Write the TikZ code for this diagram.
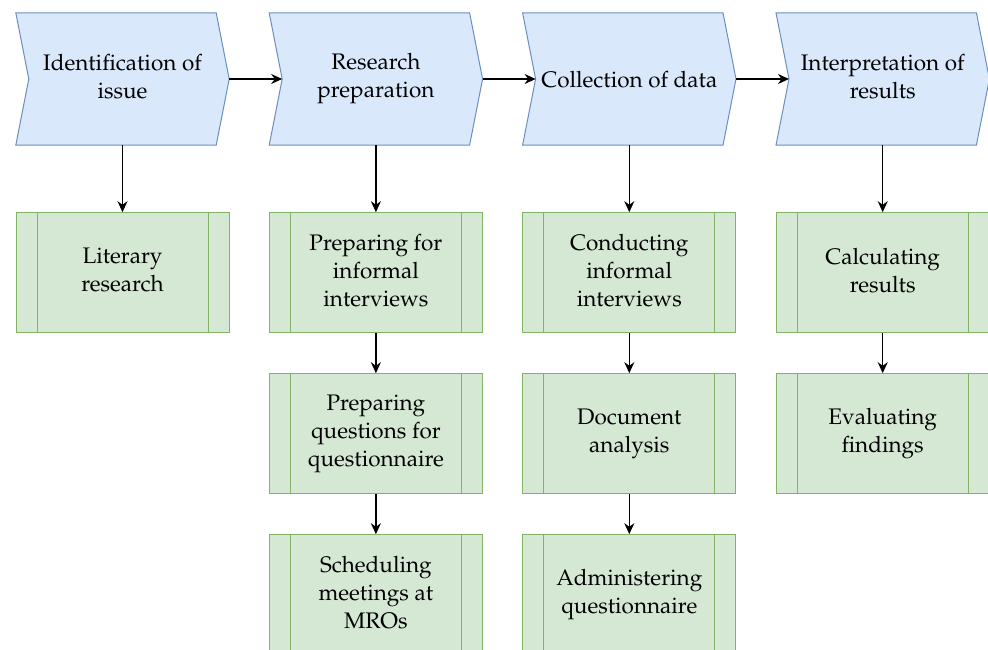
\documentclass[tikz,border=0pt]{standalone}
\usepackage[T1]{fontenc}
\usepackage{mathpazo}
\usetikzlibrary{positioning,arrows.meta,backgrounds}
\definecolor{stagefill}{HTML}{DAE8FC}
\definecolor{stageline}{HTML}{6C8EBF}
\definecolor{taskfill}{HTML}{D5E8D4}
\definecolor{taskline}{HTML}{82B366}
\newcommand{\linestrut}{\rule[-5.4pt]{0pt}{28pt}}
\tikzset{
  stage/.style={minimum width=213pt, minimum height=132pt, inner sep=0pt, align=center},
  task/.style={draw=taskline, fill=taskfill, line width=1pt, minimum width=213pt, minimum height=120pt, inner sep=0pt, align=center,
    path picture={\draw[taskline, line width=1pt]
      ([xshift=21pt]path picture bounding box.north west) -- ([xshift=21pt]path picture bounding box.south west)
      ([xshift=-21pt]path picture bounding box.north east) -- ([xshift=-21pt]path picture bounding box.south east);}},
  flow/.style={-{Stealth[length=11pt,width=10pt]}, line width=1.2pt}
}
\begin{document}
\begin{tikzpicture}[x=1pt, y=-1pt, font=\fontsize{22.5}{28}\selectfont,
  execute at begin node=\linestrut, execute at end node=\linestrut]
\useasboundingbox (0,0) rectangle (988,650);
\node (s1)[stage] at (122.5,79) {Identification of\\issue};
\node (s2)[stage] [right=40pt of s1] {Research\\preparation};
\node (s3)[stage] [right=40pt of s2] {Collection of data};
\node (s4)[stage] [right=40pt of s3] {Interpretation of\\results};
\node (t1)[task] [below=67pt of s1] {Literary\\research};
\node (t2)[task] [below=67pt of s2] {Preparing for\\informal\\interviews};
\node (t3)[task] [below=40pt of t2] {Preparing\\questions for\\questionnaire};
\node (t4)[task] [below=40pt of t3] {Scheduling\\meetings at\\MROs};
\node (t5)[task] [below=67pt of s3] {Conducting\\informal\\interviews};
\node (t6)[task] [below=40pt of t5] {Document\\analysis};
\node (t7)[task] [below=40pt of t6] {Administering\\questionnaire};
\node (t8)[task] [below=67pt of s4] {Calculating\\results};
\node (t9)[task] [below=40pt of t8] {Evaluating\\findings};
% chevrons behind the stage texts
\begin{scope}[on background layer]
\foreach \s in {s1,s2,s3,s4}
  \draw[stageline, fill=stagefill, line width=1pt] (\s.north west) -- ([xshift=-13pt]\s.north east) -- (\s.east)
    -- ([xshift=-13pt]\s.south east) -- (\s.south west) -- ([xshift=13pt]\s.west) -- cycle;
\end{scope}
\draw[flow] (s1.east) -- ([xshift=13pt]s2.west);
\draw[flow] (s2.east) -- ([xshift=13pt]s3.west);
\draw[flow] (s3.east) -- ([xshift=13pt]s4.west);
\draw[flow] (s1.south) -- (t1.north);
\draw[flow] (s2.south) -- (t2.north);
\draw[flow] (t2) -- (t3);
\draw[flow] (t3) -- (t4);
\draw[flow] (s3.south) -- (t5.north);
\draw[flow] (t5) -- (t6);
\draw[flow] (t6) -- (t7);
\draw[flow] (s4.south) -- (t8.north);
\draw[flow] (t8) -- (t9);
\end{tikzpicture}
\end{document}
